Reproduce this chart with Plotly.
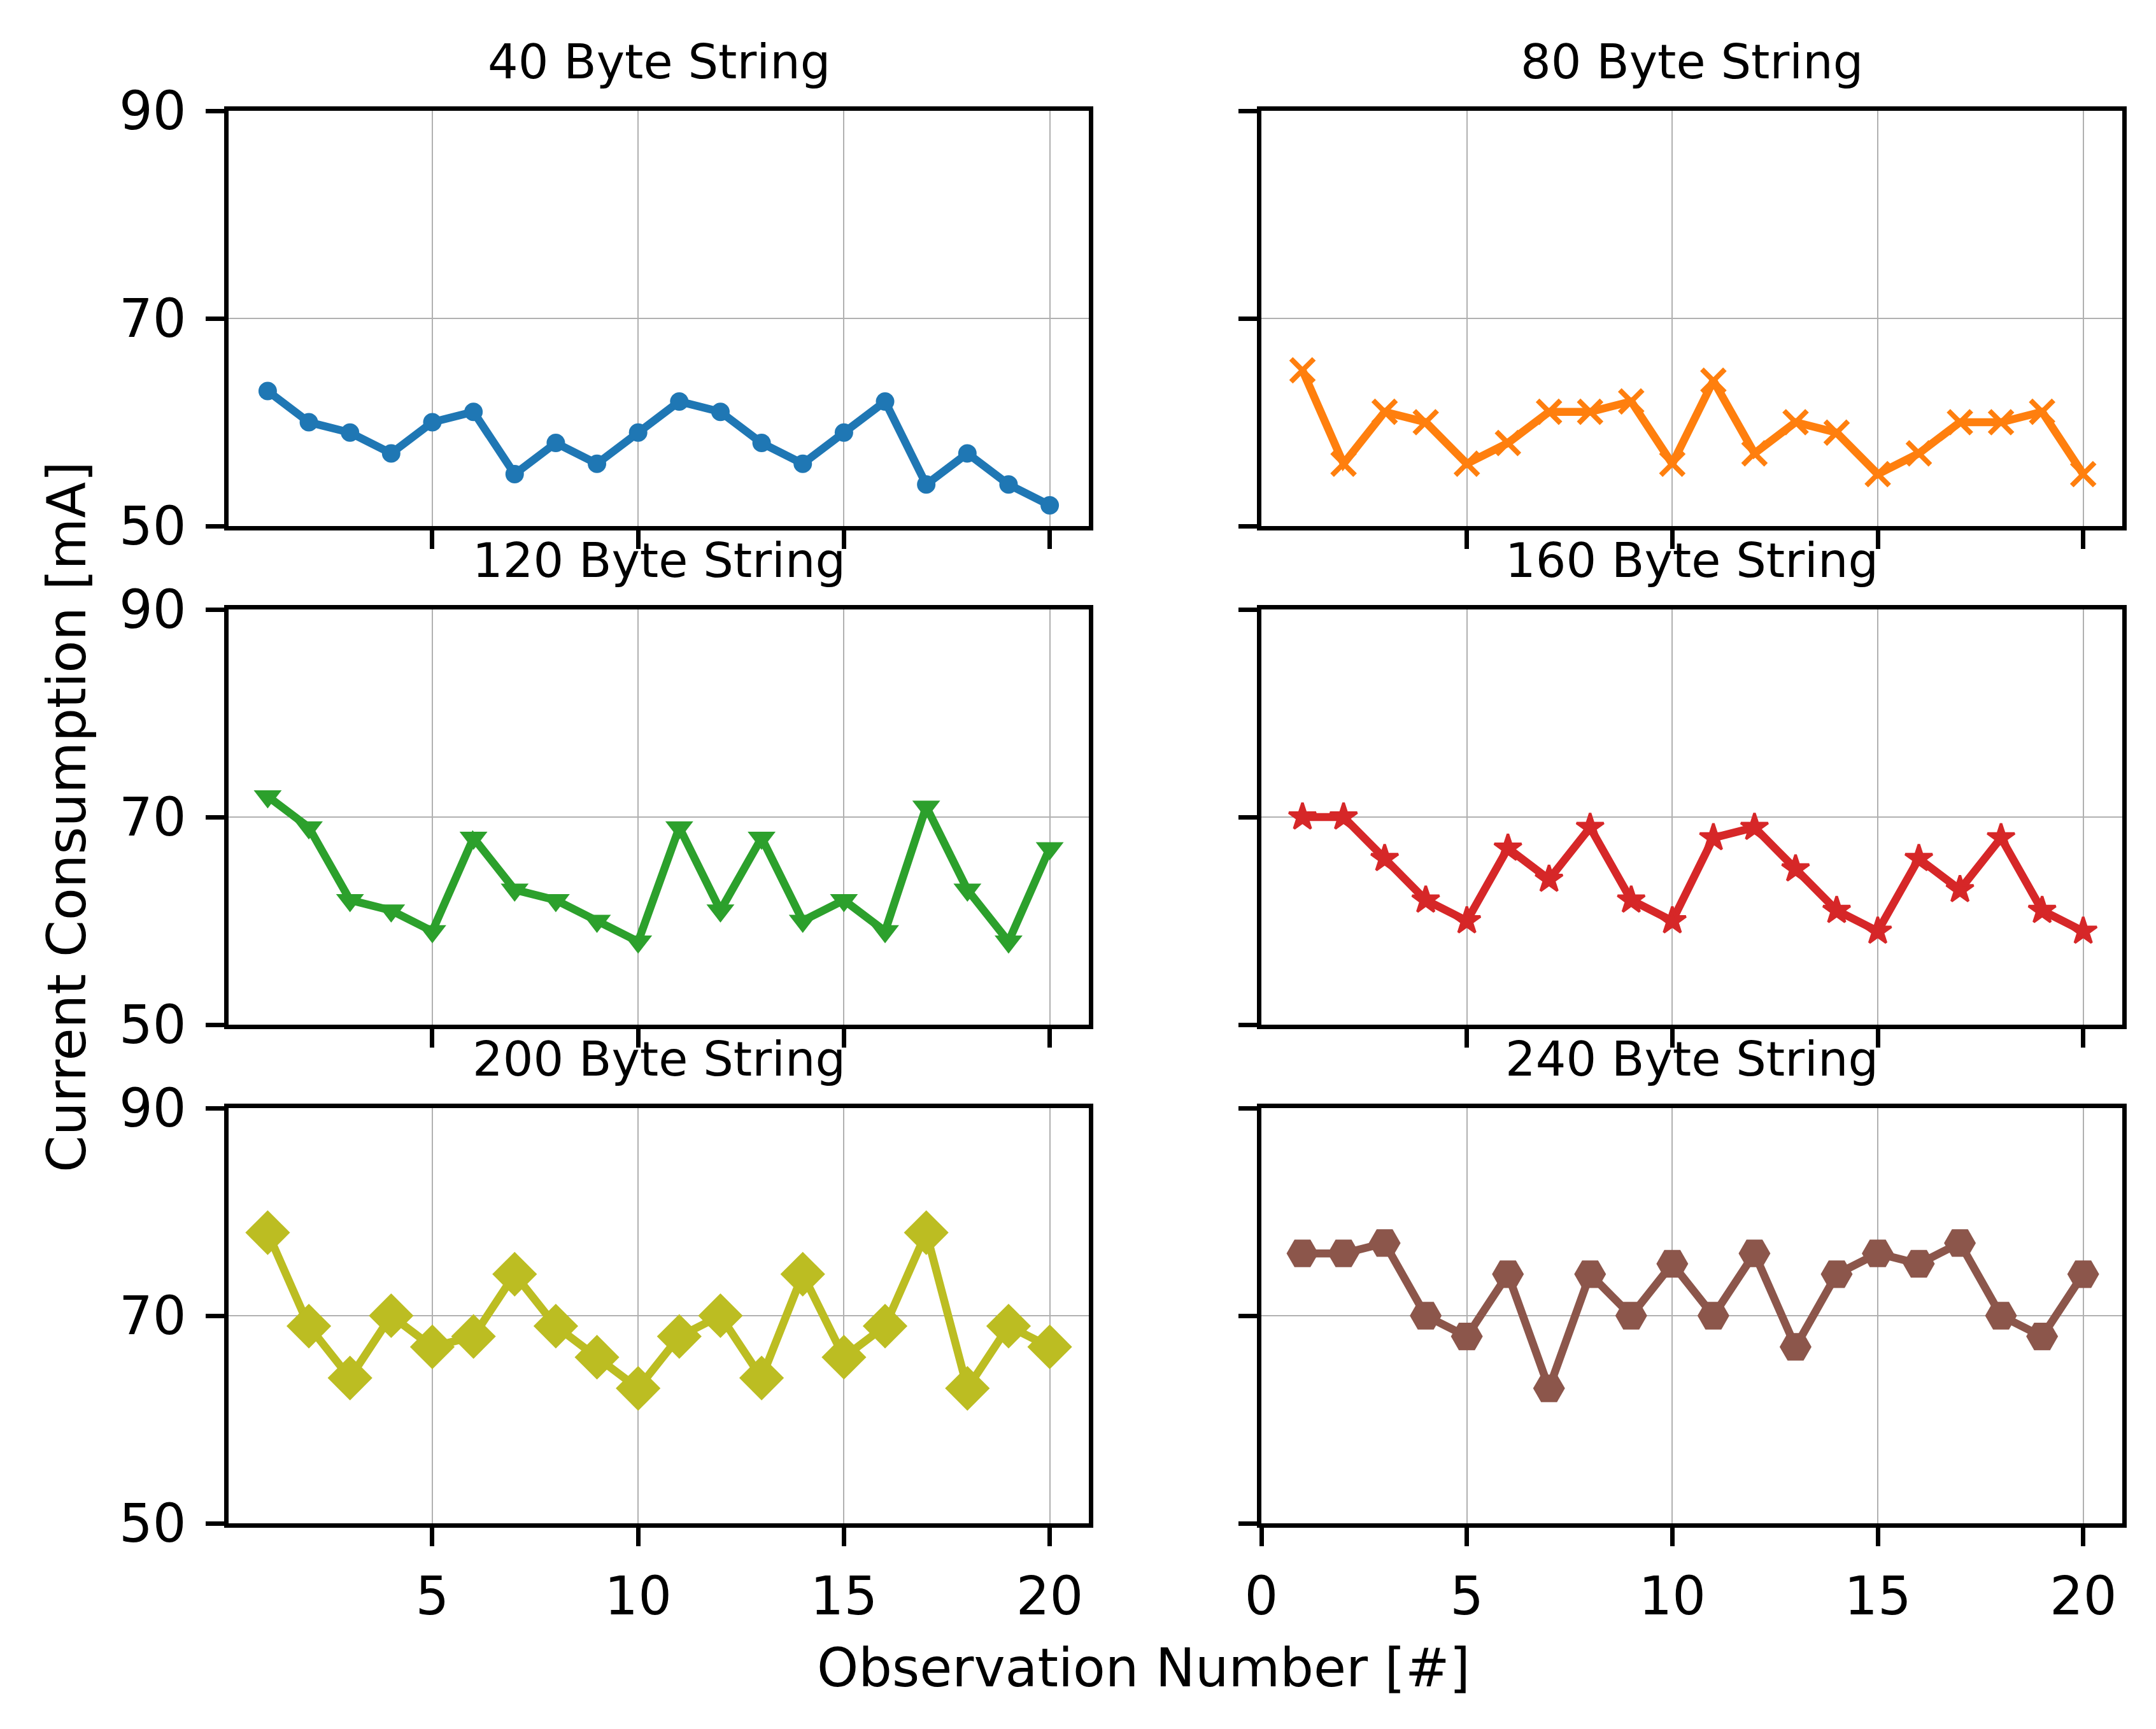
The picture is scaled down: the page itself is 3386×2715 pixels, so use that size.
import plotly.graph_objects as go

# ---------------- data ----------------
obs = list(range(1, 21))
titles = ["40 Byte String", "80 Byte String", "120 Byte String",
          "160 Byte String", "200 Byte String", "240 Byte String"]
b40 = [63, 60, 59, 57, 60, 61, 55, 58, 56, 59, 62, 61, 58, 56, 59, 62, 54, 57, 54, 52]
b80 = [65, 56, 61, 60, 56, 58, 61, 61, 62, 56, 64, 57, 60, 59, 55, 57, 60, 60, 61, 55]
b120 = [72, 69, 62, 61, 59, 68, 63, 62, 60, 58, 69, 61, 68, 60, 62, 59, 71, 63, 58, 67]
b160 = [70, 70, 66, 62, 60, 67, 64, 69, 62, 60, 68, 69, 65, 61, 59, 66, 63, 68, 61, 59]
b200 = [78, 69, 64, 70, 67, 68, 74, 69, 66, 63, 68, 70, 64, 74, 66, 69, 78, 63, 69, 67]
b240 = [76, 76, 77, 70, 68, 74, 63, 74, 70, 75, 70, 76, 67, 74, 76, 75, 77, 70, 68, 74]
series = [b40, b80, b120, b160, b200, b240]
y_ticks = [50, 70, 90]
x_ticks_left = [5, 10, 15, 20]
x_ticks_right_bottom = [0, 5, 10, 15, 20]

# ---------------- styles ----------------
colors = ["#1f77b4", "#ff7f0e", "#2ca02c", "#d62728", "#bcbd22", "#8c564b"]
symbols = ["circle", "x-thin", "triangle-down", "star", "diamond", "hexagon2"]
msizes = [29, 36, 38, 32, 54, 50]
mlines = [0, 8, 0, 4, 0, 0]

W, H = 3386, 2715
FONT = "DejaVu Sans"
TICK_FS = 83
TITLE_FS = 75

col_dom = [[351 / W, 1702 / W], [1973 / W, 3325 / W]]
row_px = [(166, 818), (949, 1601), (1732, 2384)]
row_dom = [[1 - b / H, 1 - t / H] for t, b in row_px]
col_range = [[0.05, 20.95], [0.0, 20.95]]

fig = go.Figure()
layout = dict(
    template="none",
    width=W, height=H, autosize=False,
    margin=dict(l=0, r=0, t=0, b=0, pad=0),
    paper_bgcolor="white", plot_bgcolor="white",
    showlegend=False,
    font=dict(family=FONT, color="black", size=TICK_FS),
)
annotations = []

for i in range(6):
    r, c = divmod(i, 2)
    n = "" if i == 0 else str(i + 1)
    xa, ya = "x" + n, "y" + n
    mk = dict(symbol=symbols[i], size=msizes[i], color=colors[i],
              line=dict(width=mlines[i], color=colors[i]))
    fig.add_trace(go.Scatter(
        x=obs, y=series[i], mode="lines+markers",
        line=dict(color=colors[i], width=12.5),
        marker=mk, xaxis=xa, yaxis=ya, cliponaxis=False,
    ))
    xt = x_ticks_right_bottom if (r == 2 and c == 1) else x_ticks_left
    common = dict(
        showline=True, linecolor="black", linewidth=6.7, mirror=True,
        ticks="outside", ticklen=29, tickwidth=6.7, tickcolor="black",
        showgrid=True, gridcolor="#b0b0b0", gridwidth=1.6,
        zeroline=False, automargin=False,
        tickfont=dict(family=FONT, size=TICK_FS, color="black"),
    )
    layout["xaxis" + n] = dict(
        common, domain=col_dom[c], range=col_range[c], anchor=ya,
        tickmode="array", tickvals=xt, showticklabels=(r == 2),
        ticklabelstandoff=8,
    )
    layout["yaxis" + n] = dict(
        common, domain=row_dom[r], range=[50, 90], anchor=xa,
        tickmode="array", tickvals=y_ticks, showticklabels=(c == 0),
        ticklabelstandoff=14,
    )
    annotations.append(dict(
        text=titles[i], xref=xa + " domain", yref=ya + " domain",
        x=0.5, y=1.0, xanchor="center", yanchor="bottom", yshift=31,
        showarrow=False, font=dict(family=FONT, size=TITLE_FS, color="black"),
    ))

annotations.append(dict(
    text="Observation Number [#]", xref="paper", yref="paper",
    x=1788 / W, y=1 - 2611 / H, xanchor="center", yanchor="middle",
    showarrow=False, font=dict(family=FONT, size=TICK_FS, color="black"),
))
annotations.append(dict(
    text="Current Consumption [mA]", xref="paper", yref="paper",
    x=97 / W, y=1 - 1275 / H, xanchor="center", yanchor="middle",
    textangle=-90, showarrow=False,
    font=dict(family=FONT, size=TICK_FS, color="black"),
))
layout["annotations"] = annotations
fig.update_layout(**layout)
fig.write_html("out.html")
